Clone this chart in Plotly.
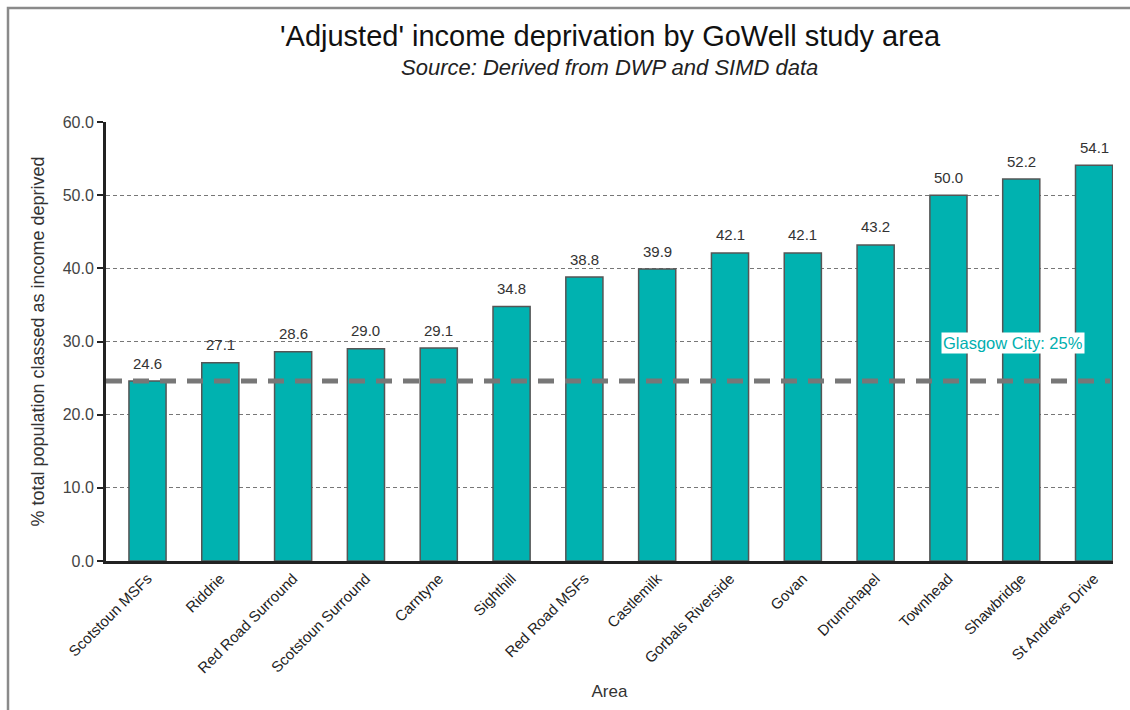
import plotly.graph_objects as go

areas = ["Scotstoun MSFs", "Riddrie", "Red Road Surround", "Scotstoun Surround",
         "Carntyne", "Sighthill", "Red Road MSFs", "Castlemilk", "Gorbals Riverside",
         "Govan", "Drumchapel", "Townhead", "Shawbridge", "St Andrews Drive"]
values = [24.6, 27.1, 28.6, 29.0, 29.1, 34.8, 38.8, 39.9, 42.1, 42.1, 43.2, 50.0, 52.2, 54.1]
glasgow_city = 24.6
y_ticks = [0, 10, 20, 30, 40, 50, 60]

xs = list(range(len(areas)))
teal = "#00B2B0"
FONT = "Liberation Sans, Arial, Helvetica"

fig = go.Figure()
fig.add_trace(go.Bar(
    x=xs, y=values, width=0.51,
    marker=dict(color=teal, line=dict(color="#555555", width=1.5)),
    hoverinfo="skip", showlegend=False,
))

for x, v in zip(xs, values):
    fig.add_annotation(x=x, y=v, text=f"{v:.1f}", showarrow=False, yshift=18,
                       font=dict(family=FONT, size=15, color="#333333"))

fig.add_shape(type="line", xref="paper", x0=0, x1=0.997, yref="y", y0=glasgow_city, y1=glasgow_city,
              line=dict(color="#777777", width=5, dash="16px,11px"), layer="above")
fig.add_annotation(x=11.89, y=29.8, text="Glasgow City: 25%", showarrow=False,
                   bgcolor="white", borderpad=1,
                   font=dict(family=FONT, size=16.5, color="#00AFAF"))

# titles
fig.add_annotation(xref="paper", yref="paper", x=(610 - 106) / 1007, y=(561 - 36) / 439,
                   text="'Adjusted' income deprivation by GoWell study area",
                   showarrow=False, xanchor="center", yanchor="middle",
                   font=dict(family=FONT, size=29, color="#111111"))
fig.add_annotation(xref="paper", yref="paper", x=(609 - 106) / 1007, y=(561 - 68) / 439,
                   text="<i>Source: Derived from DWP and SIMD data</i>",
                   showarrow=False, xanchor="center", yanchor="middle",
                   font=dict(family=FONT, size=22, color="#222222"))

# outer frame
fig.add_shape(type="rect", xref="paper", yref="paper",
              x0=(8 - 106) / 1007, x1=(1140 - 106) / 1007,
              y0=-(720 - 561) / 439, y1=(561 - 8) / 439,
              line=dict(color="#8a8a8a", width=2.5), layer="below")

fig.update_layout(
    width=1130, height=710,
    margin=dict(l=106, r=17, t=122, b=149),
    paper_bgcolor="white", plot_bgcolor="white",
    font=dict(family=FONT, color="#333333"),
    xaxis=dict(
        range=[-0.57, 13.26], tickmode="array", tickvals=xs, ticktext=areas,
        tickangle=-45, tickfont=dict(size=15, color="#222222"),
        showline=True, linecolor="#222222", linewidth=3,
        ticks="", showgrid=False, zeroline=False, automargin=False,
        title=dict(text="Area", font=dict(size=17, color="#333333"), standoff=10),
    ),
    yaxis=dict(
        range=[0, 60], tickmode="array", tickvals=y_ticks,
        ticktext=[f"{t:.1f}" for t in y_ticks],
        tickfont=dict(size=16, color="#444444"),
        showline=True, linecolor="#222222", linewidth=3,
        ticks="outside", ticklen=6, tickcolor="#222222", tickwidth=2,
        showgrid=True, gridcolor="#777777", gridwidth=1, griddash="4px,3px",
        zeroline=False, automargin=False,
        title=dict(text="% total population classed as income deprived",
                   font=dict(size=18, color="#333333"), standoff=14),
    ),
)

fig.write_html("out.html")
